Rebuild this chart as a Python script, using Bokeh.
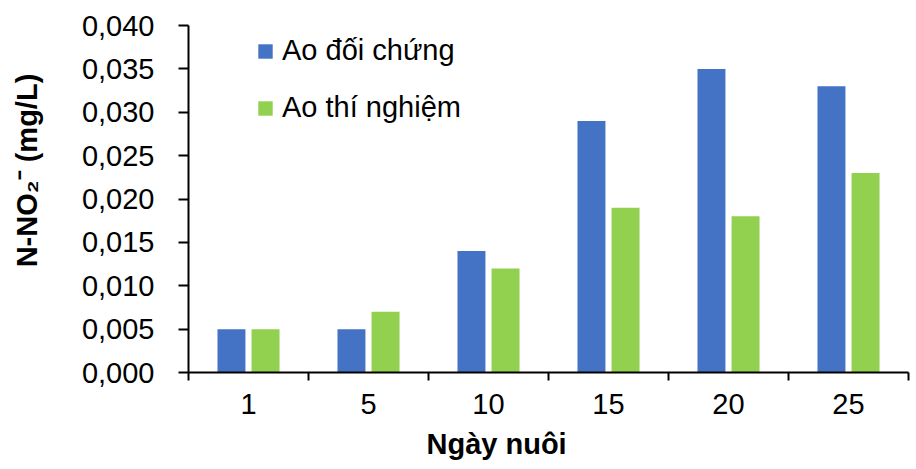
import math
from bokeh.plotting import figure
from bokeh.layouts import row
from bokeh.models import (ColumnDataSource, Range1d, FixedTicker, CustomJSTickFormatter,
                          Legend, LegendItem, Title)
from bokeh.core.properties import value
from bokeh.transform import dodge
from bokeh.embed import file_html
from bokeh.resources import INLINE

# ---- data ----
days = ["1", "5", "10", "15", "20", "25"]
ao_doi_chung = [0.005, 0.005, 0.014, 0.029, 0.035, 0.033]
ao_thi_nghiem = [0.005, 0.007, 0.012, 0.019, 0.018, 0.023]
y_ticks = [0.000, 0.005, 0.010, 0.015, 0.020, 0.025, 0.030, 0.035, 0.040]
series_names = ["Ao đối chứng", "Ao thí nghiệm"]
colors = ["#4472C4", "#92D050"]
x_title = "Ngày nuôi"
y_title = "N-NO₂⁻ (mg/L)"

FONT = "Liberation Sans"
W, H = 916, 469
SIDE = 60   # width of the strip carrying the y-axis title


def blank(fig):
    fig.outline_line_color = None
    fig.grid.visible = False
    fig.background_fill_color = "white"
    fig.border_fill_color = "white"


centers = [i + 0.5 for i in range(len(days))]
src = ColumnDataSource(dict(x=centers, a=ao_doi_chung, b=ao_thi_nghiem))

# ---- strip with the rotated y-axis title ----
pt = figure(width=SIDE, height=H, output_backend="svg", toolbar_location=None,
            x_range=Range1d(0, SIDE), y_range=Range1d(0, H),
            min_border=0, x_axis_location=None, y_axis_location=None)
blank(pt)
pt.text(x=[26], y=[273], text=[y_title], angle=math.pi / 2,
        text_font=value(FONT), text_font_size="29px", text_font_style="bold",
        text_align="center", text_baseline="middle", text_color="black")

# ---- main chart ----
p = figure(width=W - SIDE, height=H, output_backend="svg", toolbar_location=None,
           x_range=Range1d(0, len(days)), y_range=Range1d(0, 0.04),
           min_border_left=188 - SIDE, min_border_right=8, min_border_top=25,
           min_border_bottom=97)
blank(p)

r1 = p.vbar(x=dodge("x", -0.142, range=p.x_range), top="a", width=0.233, source=src,
            fill_color=colors[0], line_color=None)
r2 = p.vbar(x=dodge("x", 0.142, range=p.x_range), top="b", width=0.233, source=src,
            fill_color=colors[1], line_color=None)

# x axis: labels at centres, tick marks at category boundaries
xa = p.xaxis[0]
xa.ticker = FixedTicker(ticks=centers, minor_ticks=list(range(len(days) + 1)))
xa.major_label_overrides = {c: d for c, d in zip(centers, days)}
xa.major_tick_line_color = None
xa.minor_tick_line_color = "black"
xa.minor_tick_line_width = 2
xa.minor_tick_in = 0
xa.minor_tick_out = 8
xa.axis_line_width = 2
xa.axis_line_color = "black"
xa.major_label_text_font = FONT
xa.major_label_text_font_size = "29px"
xa.major_label_text_color = "black"
xa.major_label_standoff = 13

ya = p.yaxis[0]
ya.ticker = FixedTicker(ticks=y_ticks)
ya.formatter = CustomJSTickFormatter(code="return tick.toFixed(3).replace('.', ',');")
ya.minor_tick_line_color = None
ya.major_tick_line_color = "black"
ya.major_tick_line_width = 2
ya.major_tick_in = 0
ya.major_tick_out = 10
ya.axis_line_width = 2
ya.axis_line_color = "black"
ya.major_label_text_font = FONT
ya.major_label_text_font_size = "29px"
ya.major_label_text_color = "black"
ya.major_label_standoff = 24

# x-axis title
p.add_layout(Title(text=x_title, align="left", offset=238, standoff=18,
                   text_font=FONT, text_font_size="29px", text_font_style="bold",
                   text_color="black"), "below")

legend = Legend(items=[LegendItem(label=series_names[0], renderers=[r1]),
                       LegendItem(label=series_names[1], renderers=[r2])],
                location=(68, 248), orientation="vertical",
                label_text_font=FONT, label_text_font_size="29px", label_text_color="black",
                glyph_width=18, glyph_height=18, label_standoff=8, spacing=24,
                padding=0, margin=0, border_line_color=None, background_fill_alpha=0)
p.add_layout(legend, "center")

layout = row(pt, p, spacing=0)
open("out.html", "w").write(file_html(layout, INLINE))
